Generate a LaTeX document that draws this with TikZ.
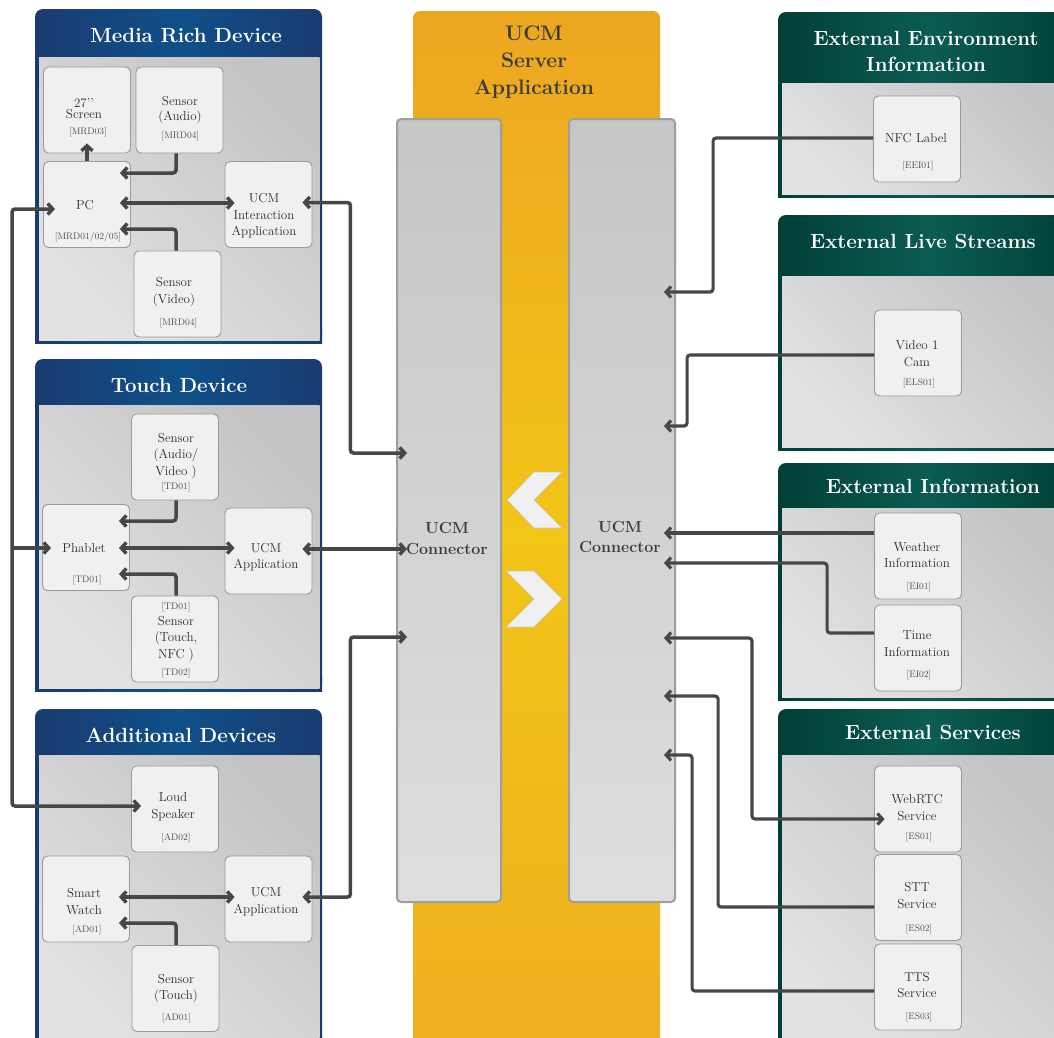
\documentclass[tikz,border=0pt]{standalone}
\usepackage{fontspec}
\usetikzlibrary{arrows.meta}

\definecolor{blueD}{HTML}{1A3B70}
\definecolor{blueL}{HTML}{0F5089}
\definecolor{greenD}{HTML}{003F36}
\definecolor{greenL}{HTML}{0B5C51}
\definecolor{greyL}{HTML}{E2E2E2}
\definecolor{greyD}{HTML}{C4C4C4}
\definecolor{boxfill}{HTML}{F0F0F0}
\definecolor{boxline}{HTML}{9A9A9A}
\definecolor{txtdark}{HTML}{2E2E2E}
\definecolor{txtcode}{HTML}{505050}
\definecolor{wirecol}{HTML}{474747}
\definecolor{orT}{HTML}{ECA621}
\definecolor{orM}{HTML}{F3C517}
\definecolor{orB}{HTML}{EEAF20}
\definecolor{connT}{HTML}{C6C6C6}
\definecolor{connB}{HTML}{DEDEDE}
\definecolor{connline}{HTML}{9E9E9E}
\definecolor{servertxt}{HTML}{3A3A3A}

% panel frame: header colour style, corners, header bottom
\newcommand\panel[6]{%
  \shade[#1, rounded corners=8pt] (#2,#3) rectangle (#4,#5);
  \shade[#1] (#2,#5-14) rectangle (#4,#5);
  \shade[bodygrey] (#2+4,#6) rectangle (#4-2.5,#5-3);
}
% device box: name, cx, cy, text x, text y, text, code y, code
\newcommand\unitbox[8]{%
  \node[devbox] (#1) at (#2,#3) {};
  \node[boxtxt] (#1-txt) at (#4,#5) {#6};
  \node[codetxt] (#1-code) at (#2+1,#7) {#8};
}
% device box without reference code
\newcommand\unitboxn[6]{%
  \node[devbox] (#1) at (#2,#3) {};
  \node[boxtxt] (#1-txt) at (#4,#5) {#6};
}

\begin{document}
\begin{tikzpicture}[x=1pt,y=-1pt,
  hdrblue/.style={left color=blueD, right color=blueD, middle color=blueL},
  hdrgreen/.style={left color=greenD, right color=greenD, middle color=greenL},
  bodygrey/.style={top color=greyD, bottom color=greyL, shading angle=-45},
  devbox/.style={draw=boxline, fill=boxfill, line width=0.9pt, rounded corners=5pt,
    minimum width=87pt, minimum height=86pt, inner sep=0pt},
  boxtxt/.style={text=txtdark, align=center, inner sep=0pt,
    font=\fontsize{13}{16.5}\selectfont},
  codetxt/.style={text=txtcode, inner sep=0pt, font=\fontsize{9.5}{11}\selectfont},
  ptitle/.style={text=white, align=center, inner sep=0pt,
    font=\bfseries\fontsize{20.5}{26}\selectfont},
  conn/.style={draw=connline, line width=2pt, rounded corners=4pt,
    top color=connT, bottom color=connB, minimum height=783pt, inner sep=0pt},
  conntxt/.style={text=servertxt, align=center, inner sep=0pt,
    font=\bfseries\fontsize{16}{20.5}\selectfont},
  chev/.style={fill=boxfill, draw=greyD, line width=0.6pt},
  wire/.style={draw=wirecol, line width=3.5pt, rounded corners=3pt,
    >={Straight Barb[length=5pt,width=11pt]}},
  wireR/.style={wire, line width=3.1pt},
]
\useasboundingbox (0,0) rectangle (1054,1037);
\clip (0,0) rectangle (1054,1037);
\fill[white] (0,0) rectangle (1054,1037);

% ---------- server application ----------
\shade[top color=orT, bottom color=orB, middle color=orM, rounded corners=7pt]
  (413,11) rectangle (660,1060);
\node[text=servertxt, align=center, inner sep=0pt,
  font=\bfseries\fontsize{21}{27}\selectfont] (srv) at (534,62) {UCM\\Server\\Application};

\node[conn, minimum width=104pt] (lc) at (449,510.5) {};
\node[conn, minimum width=106pt] (rc) at (622,510.5) {};
\node[conntxt] (lc-txt) at (447,538.5) {UCM\\Connector};
\node[conntxt] (rc-txt) at (620,537) {UCM\\Connector};

\filldraw[chev] (562,472) -- (534,472) -- (507,500) -- (534,528) -- (562,528) -- (534,500) -- cycle;
\filldraw[chev] (506,571) -- (534,571) -- (562,599) -- (534,627) -- (506,627) -- (534,599) -- cycle;

% ---------- device panels ----------
\panel{hdrblue}{35}{9}{322}{343}{57}
\node[ptitle] (t-mrd) at (186,36) {Media Rich Device};
\panel{hdrblue}{35}{359}{322}{691}{405}
\node[ptitle] (t-td) at (179,385) {Touch Device};
\panel{hdrblue}{35}{709}{322}{1050}{755}
\node[ptitle] (t-ad) at (181,735) {Additional Devices};

% ---------- external panels ----------
\panel{hdrgreen}{778}{12}{1080}{197}{83}
\node[ptitle] (t-eei) at (926,51) {External Environment\\Information};
\panel{hdrgreen}{778}{215}{1080}{450}{276}
\node[ptitle] (t-els) at (923,241) {External Live Streams};
\panel{hdrgreen}{778}{463}{1080}{700}{508}
\node[ptitle] (t-ei) at (933,486) {External Information};
\panel{hdrgreen}{778}{709}{1080}{1050}{755}
\node[ptitle] (t-es) at (933,732) {External Services};

% ---------- media rich device ----------
\unitbox{scr}{87}{110}{84}{108.5}{27{'}{'}\\[-5pt]Screen}{132}{[MRD03]}
\unitbox{sau}{179.5}{110}{180}{110}{Sensor\\[-2pt](Audio)}{136}{[MRD04]}
\unitbox{pc}{87}{204.5}{85}{205}{PC}{237}{[MRD01/02/05]}
\unitboxn{uia}{268.5}{204.5}{264}{216}{UCM\\Interaction\\Application}
\unitbox{svi}{177.5}{294}{174}{292}{Sensor\\(Video)}{323}{[MRD04]}

% ---------- touch device ----------
\unitbox{sav}{175}{457}{176}{456}{Sensor\\(Audio/\\Video )}{487}{[TD01]}
\unitbox{pha}{86}{547.5}{84}{548}{Phablet}{580}{[TD01]}
\unitboxn{tua}{268.5}{551}{266}{557}{UCM\\Application}
\unitbox{stn}{175}{639}{176}{639}{Sensor\\(Touch,\\NFC )}{673}{[TD02]}
\node[codetxt] (stn-code2) at (176,607) {[TD01]};

% ---------- additional devices ----------
\unitbox{lsp}{175}{809}{173}{806.5}{Loud\\Speaker}{838}{[AD02]}
\unitbox{swa}{86}{899}{84}{901.5}{Smart\\Watch}{930}{[AD01]}
\unitboxn{aua}{268.5}{899}{266}{901.5}{UCM\\Application}
\unitbox{sto}{175.5}{988.5}{176}{988.5}{Sensor\\(Touch)}{1018}{[AD01]}

% ---------- external sources ----------
\unitbox{nfc}{917}{139}{916}{138}{NFC Label}{166}{[EEI01]}
\unitbox{cam}{918}{353}{917}{353.5}{Video 1\\Cam}{383}{[ELS01]}
\unitbox{wea}{918}{556}{917}{555}{Weather\\Information}{587}{[EI01]}
\unitbox{tim}{918}{648}{917}{643.5}{Time\\Information}{675}{[EI02]}
\unitbox{web}{918}{809}{917}{807.5}{WebRTC\\Service}{837}{[ES01]}
\unitbox{stt}{918}{897.5}{917}{895.5}{STT\\Service}{929}{[ES02]}
\unitbox{tts}{918}{987}{917}{985}{TTS\\Service}{1017}{[ES03]}

% ---------- connections: devices ----------
\draw[wire,<->] ([shift={(12,4.5)}]pc.west) -- ++(-43,0) |- ([shift={(10,-3)}]lsp.west);
\draw[wire,->] ([shift={(-31,0.5)}]pha.west) -- ([shift={(9,0.5)}]pha.west);

\draw[wire,->] (pc.north) -- ([shift={(0,-10)}]scr.south);
\draw[wire,->] ([shift={(-3.5,0)}]sau.south) |- ([shift={(-11,-31.5)}]pc.east);
\draw[wire,<->] ([shift={(-11,-1.5)}]pc.east) -- ([shift={(10,-1.5)}]uia.west);
\draw[wire,->] ([shift={(-1.5,0)}]svi.north) |- ([shift={(-11,24.5)}]pc.east);
\draw[wire,<->] ([shift={(-10,-2)}]uia.east) -- ++(48,0) |- ([shift={(11,-57.5)}]lc.west);

\draw[wire,->] ([shift={(1,0)}]sav.south) |- ([shift={(-11,-26.5)}]pha.east);
\draw[wire,<->] ([shift={(-11,0.5)}]pha.east) -- ([shift={(10,-3)}]tua.west);
\draw[wire,->] ([shift={(1,0)}]stn.north) |- ([shift={(-11,26.5)}]pha.east);
\draw[wire,<->] ([shift={(-10,-2)}]tua.east) -- ([shift={(11,38.5)}]lc.west);

\draw[wire,<->] ([shift={(-11,-2)}]swa.east) -- ([shift={(10,-2)}]aua.west);
\draw[wire,->] ([shift={(0.5,0)}]sto.north) |- ([shift={(-11,24)}]swa.east);
\draw[wire,<->] ([shift={(-10,-2)}]aua.east) -- ++(48,0) |- ([shift={(11,126.5)}]lc.west);

% ---------- connections: external ----------
\draw[wireR,->] ([shift={(0,-1)}]nfc.west) -- ++(-160,0) |- ([shift={(-12,-218.5)}]rc.east);
\draw[wireR,->] ([shift={(0,2)}]cam.west) -- ++(-187,0) |- ([shift={(-12,-84.5)}]rc.east);
\draw[wireR,->] ([shift={(0,-23)}]wea.west) -- ([shift={(-12,22.5)}]rc.east);
\draw[wireR,->] ([shift={(0,-15)}]tim.west) -- ++(-47,0) |- ([shift={(-12,52.5)}]rc.east);
\draw[wireR,<->] ([shift={(-12,127.5)}]rc.east) -- ++(88,0) |- ([shift={(10.5,10)}]web.west);
\draw[wireR,->] ([shift={(0,9.5)}]stt.west) -- ++(-156,0) |- ([shift={(-12,185.5)}]rc.east);
\draw[wireR,->] ([shift={(0,4)}]tts.west) -- ++(-182,0) |- ([shift={(-12,244.5)}]rc.east);
\end{tikzpicture}
\end{document}
